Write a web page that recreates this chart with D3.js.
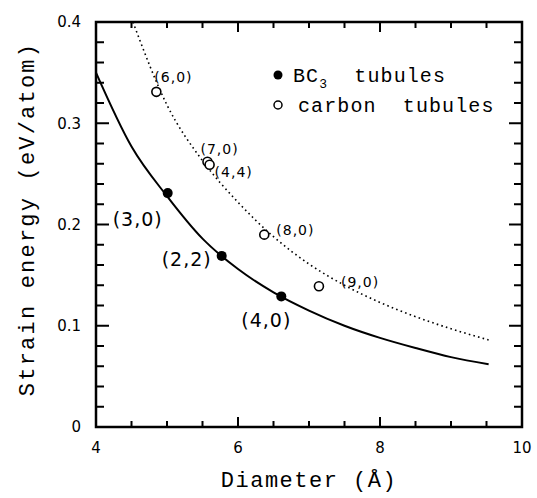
<!DOCTYPE html>
<html>
<head>
<meta charset="utf-8">
<script src="https://cdn.jsdelivr.net/npm/d3@7"></script>
<style>
  body { margin: 0; background: #fff; }
  svg { display: block; }
</style>
</head>
<body>
<div id="chart"></div>
<script>
// curves (diameter in A, strain energy in eV/atom)
var bc3Curve = [
    [4.0, 0.350], [4.5, 0.277], [5.0, 0.228], [5.5, 0.186], [6.0, 0.156],
    [6.5, 0.133], [7.0, 0.115], [7.5, 0.100], [8.0, 0.088], [8.5, 0.078],
    [9.0, 0.069], [9.53, 0.062]
];
var carbonCurve = [
    [4.52, 0.400], [5.0, 0.318], [5.5, 0.263], [6.0, 0.222], [6.5, 0.188],
    [7.0, 0.161], [7.5, 0.140], [8.0, 0.123], [8.5, 0.109], [9.0, 0.097],
    [9.53, 0.086]
];

// computed tubules
var bc3Points = [
    {d: 5.01, e: 0.231, label: "(3,0)"},
    {d: 5.77, e: 0.169, label: "(2,2)"},
    {d: 6.61, e: 0.129, label: "(4,0)"}
];
var carbonPoints = [
    {d: 4.85, e: 0.331, label: "(6,0)"},
    {d: 5.57, e: 0.262, label: "(7,0)"},
    {d: 5.60, e: 0.259, label: "(4,4)"},
    {d: 6.37, e: 0.190, label: "(8,0)"},
    {d: 7.14, e: 0.139, label: "(9,0)"}
];

var xMajor = [4, 6, 8, 10];
var xMinor = [4.5, 5, 5.5, 6.5, 7, 7.5, 8.5, 9, 9.5];
var yMajor = [0, 0.1, 0.2, 0.3, 0.4];
var yMinor = [0.02, 0.04, 0.06, 0.08, 0.12, 0.14, 0.16, 0.18,
              0.22, 0.24, 0.26, 0.28, 0.32, 0.34, 0.36, 0.38];

var width = 537, height = 498;
var svg = d3.select("#chart").append("svg")
    .attr("width", width)
    .attr("height", height);

var x = d3.scaleLinear().domain([4, 10]).range([96, 522]);
var y = d3.scaleLinear().domain([0, 0.4]).range([427, 22]);

var tickFont = "'DejaVu Sans', sans-serif";
var monoFont = "'Liberation Mono', monospace";

// frame
svg.append("rect")
    .attr("x", x(4)).attr("y", y(0.4))
    .attr("width", x(10) - x(4)).attr("height", y(0) - y(0.4))
    .attr("fill", "none").attr("stroke", "#000").attr("stroke-width", 2.5);

// ticks on all four sides, pointing inwards
var tickG = svg.append("g");
function xTicks(values, len)
{
    tickG.append("g").selectAll("rect").data(values).enter().append("rect")
        .attr("x", d => x(d) - 1).attr("y", y(0) - len)
        .attr("width", 2).attr("height", len).attr("fill", "#000");
    tickG.append("g").selectAll("rect").data(values).enter().append("rect")
        .attr("x", d => x(d) - 1).attr("y", y(0.4))
        .attr("width", 2).attr("height", len).attr("fill", "#000");
}
function yTicks(values, len)
{
    tickG.append("g").selectAll("rect").data(values).enter().append("rect")
        .attr("x", x(4)).attr("y", d => y(d) - 1)
        .attr("width", len).attr("height", 2).attr("fill", "#000");
    tickG.append("g").selectAll("rect").data(values).enter().append("rect")
        .attr("x", x(10) - len).attr("y", d => y(d) - 1)
        .attr("width", len).attr("height", 2).attr("fill", "#000");
}
xTicks(xMinor, 6);
xTicks(xMajor, 10);
yTicks(yMinor, 8);
yTicks(yMajor, 13);

// tick labels
svg.append("g").selectAll("text").data(xMajor).enter().append("text")
    .attr("x", d => x(d)).attr("y", y(0) + 21)
    .attr("dy", "0.35em").attr("text-anchor", "middle")
    .style("font-family", tickFont).style("font-size", "15px")
    .text(d3.format("d"));

svg.append("g").selectAll("text").data(yMajor).enter().append("text")
    .attr("x", x(4) - 15).attr("y", d => y(d))
    .attr("dy", "0.35em").attr("text-anchor", "end")
    .style("font-family", tickFont).style("font-size", "15px")
    .text(d => d === 0 ? "0" : d3.format(".1f")(d));

var line = d3.line()
    .x(d => x(d[0]))
    .y(d => y(d[1]))
    .curve(d3.curveMonotoneX);

svg.append("path").datum(bc3Curve)
    .attr("d", line)
    .attr("fill", "none").attr("stroke", "#000").attr("stroke-width", 2);

svg.append("path").datum(carbonCurve)
    .attr("d", line)
    .attr("fill", "none").attr("stroke", "#000").attr("stroke-width", 1.6)
    .attr("stroke-dasharray", "1.6,3.2");

svg.append("g").selectAll("circle")
    .data(carbonPoints)
    .enter().append("circle")
    .attr("cx", d => x(d.d)).attr("cy", d => y(d.e)).attr("r", 4.5)
    .attr("fill", "#fff").attr("stroke", "#000").attr("stroke-width", 1.6);

svg.append("g").selectAll("circle")
    .data(bc3Points)
    .enter().append("circle")
    .attr("cx", d => x(d.d)).attr("cy", d => y(d.e)).attr("r", 5)
    .attr("fill", "#000");

// point labels, offsets in pixels from each point (left edge, middle)
var bigOffsets = [[-55, 26], [-60, 3], [-40, 24]];
svg.append("g").selectAll("text")
    .data(bc3Points)
    .enter().append("text")
    .attr("x", (d, i) => x(d.d) + bigOffsets[i][0])
    .attr("y", (d, i) => y(d.e) + bigOffsets[i][1])
    .attr("dy", "0.35em")
    .style("font-family", tickFont)
    .style("font-size", "19px")
    .style("letter-spacing", "1px")
    .text(d => d.label);

var smallOffsets = [[-2, -15], [-7, -13], [5, 7], [12, -5], [22, -4]];
svg.append("g").selectAll("text")
    .data(carbonPoints)
    .enter().append("text")
    .attr("x", (d, i) => x(d.d) + smallOffsets[i][0])
    .attr("y", (d, i) => y(d.e) + smallOffsets[i][1])
    .attr("dy", "0.35em")
    .style("font-family", tickFont)
    .style("font-size", "14px")
    .style("letter-spacing", "1px")
    .text(d => d.label);

// legend
var legend = svg.append("g").attr("transform", "translate(278,0)");
legend.append("circle").attr("cx", 0).attr("cy", 75).attr("r", 4.5).attr("fill", "#000");
legend.append("circle").attr("cx", 0).attr("cy", 105).attr("r", 4)
    .attr("fill", "#fff").attr("stroke", "#000").attr("stroke-width", 1.5);

var lt1 = legend.append("text").attr("x", 15).attr("y", 75).attr("dy", "0.35em")
    .style("font-family", monoFont).style("font-size", "20px")
    .style("letter-spacing", "1.1px").attr("xml:space", "preserve");
lt1.append("tspan").text("BC");
lt1.append("tspan").attr("dy", 6).style("font-size", "13px").text("3");
lt1.append("tspan").attr("dy", -6).text("  tubules");

legend.append("text").attr("x", 20).attr("y", 105).attr("dy", "0.35em")
    .style("font-family", monoFont).style("font-size", "20px")
    .style("letter-spacing", "1.1px").attr("xml:space", "preserve")
    .text("carbon  tubules");

// axis titles
svg.append("text")
    .attr("x", 309).attr("y", 479).attr("dy", "0.35em")
    .attr("text-anchor", "middle")
    .style("font-family", monoFont).style("font-size", "22px")
    .style("letter-spacing", "1.5px")
    .text("Diameter (Å)");

svg.append("text")
    .attr("transform", "translate(26,219) rotate(-90)")
    .attr("dy", "0.35em")
    .attr("text-anchor", "middle")
    .style("font-family", monoFont).style("font-size", "22px")
    .style("letter-spacing", "2.2px")
    .text("Strain energy (eV/atom)");
</script>
</body>
</html>
